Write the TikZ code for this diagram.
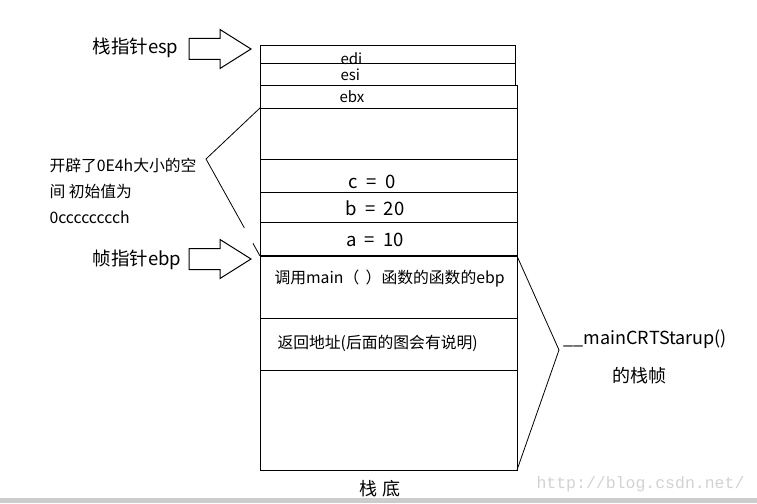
\documentclass[tikz,border=0pt]{standalone}
\usepackage{fontspec}
\setmainfont{Noto Sans CJK SC}
\newfontfamily\wmfont{Liberation Mono}
\usepackage{tikz}
\usetikzlibrary{calc}

\begin{document}
\begin{tikzpicture}[
    x=1pt, y=-1pt,
    line width=1pt,
    every node/.style={inner sep=0pt},
    cell/.style={draw=black, line width=1pt},
    regtext/.style={font=\fontsize{15}{18}\selectfont, anchor=base west},
    vartext/.style={font=\fontsize{18.5}{21}\selectfont, anchor=base},
    celltext/.style={font=\fontsize{15.8}{18}\selectfont, anchor=base west},
    ptrlabel/.style={font=\fontsize{18.5}{22}\selectfont, anchor=base west},
    notetext/.style={font=\fontsize{15.8}{26}\selectfont, anchor=base west, align=left},
    bigtext/.style={font=\fontsize{18}{22}\selectfont, anchor=base west},
    hollow/.style={draw=black, fill=white, line width=1pt, line join=miter}
]

% 画布大小
\useasboundingbox (0,0) rectangle (757,503);

% 参数：栈的左右边界
\def\SL{260}
\def\SR{517}

% 栈顶三个寄存器格子
\draw[cell] (\SL,46) rectangle (515,64);
\draw[cell] (\SL,64) rectangle (515,85);
\draw[cell] (\SL,85) rectangle (\SR,108);

% 开辟的 0E4h 空间及局部变量
\draw[cell] (\SL,108) rectangle (\SR,256);
\foreach \y in {159,192,222} {
    \draw[cell] (\SL,\y) -- (\SR,\y);
}

% __mainCRTStarup() 的栈帧
\draw[cell] (\SL,256) rectangle (\SR,470);
\foreach \y in {318,370} {
    \draw[cell] (\SL,\y) -- (\SR,\y);
}
% ebp 处的粗分界线
\draw[line width=2.4pt] (\SL,256) -- (\SR,256);

% 格子中的文字
\node[regtext] (edi) at (340,65)  {edi};
\node[regtext] (esi) at (340,81)  {esi};
\node[regtext] (ebx) at (339,102) {ebx};
\node[vartext] (varc) at (372,188) {c\hspace{0.45em}=\hspace{0.45em}0};
\node[vartext] (varb) at (375,215) {b\hspace{0.45em}=\hspace{0.45em}20};
\node[vartext] (vara) at (375,246) {a\hspace{0.45em}=\hspace{0.45em}10};
\node[celltext] (oldebp) at (274,283) {调用main（\hspace{0.4em}）函数的函数的ebp};
\node[celltext] (retaddr) at (277,348) {返回地址(后面的图会有说明)};

% 空心箭头：esp 与 ebp
\foreach \cy/\nm in {49/esp, 259/ebp} {
    \draw[hollow] (189,\cy-10.5) -- (220,\cy-10.5) -- (220,\cy-19.5)
        -- (251,\cy) -- (220,\cy+19.5) -- (220,\cy+10.5)
        -- (189,\cy+10.5) -- cycle;
    \coordinate (tip\nm) at (251,\cy);
}
\node[ptrlabel] (esplabel) at (92,54)  {栈指针esp};
\node[ptrlabel] (ebplabel) at (92,265) {帧指针ebp};

% 左侧折线：开辟的空间
\node[notetext] (note) at (49,223) {开辟了0E4h大小的空\\间 初始值为\\0cccccccch};
\coordinate (ltop) at (\SL,108);
\coordinate (lmid) at (206,159);
\coordinate (lbot) at (\SL,256);
\draw[line width=0.8pt] (ltop) -- (lmid) -- ($(lmid)!0.71!(lbot)$);
\draw[line width=0.8pt] ($(lmid)!0.87!(lbot)$) -- (lbot);

% 右侧折线：__mainCRTStarup() 的栈帧
\coordinate (rtop) at (\SR,256);
\coordinate (rmid) at (559,350);
\coordinate (rbot) at (\SR,470);
\draw[line width=0.8pt] (rtop) -- (rmid) -- (rbot);
\node[bigtext] (frame1) at (563,344) {\_\_mainCRTStarup()};
\node[bigtext] (frame2) at (612,382) {的栈帧};

% 栈底
\node[bigtext] (bottom) at (359,495) {栈\hspace{0.3em}底};

% 水印与底边
\node[anchor=base west, font=\wmfont\fontsize{16.5}{20}\selectfont, text=gray!35] (wm) at (536,488) {http://blog.csdn.net/};
\fill[gray!40] (0,498) rectangle (757,503);

\end{tikzpicture}
\end{document}
